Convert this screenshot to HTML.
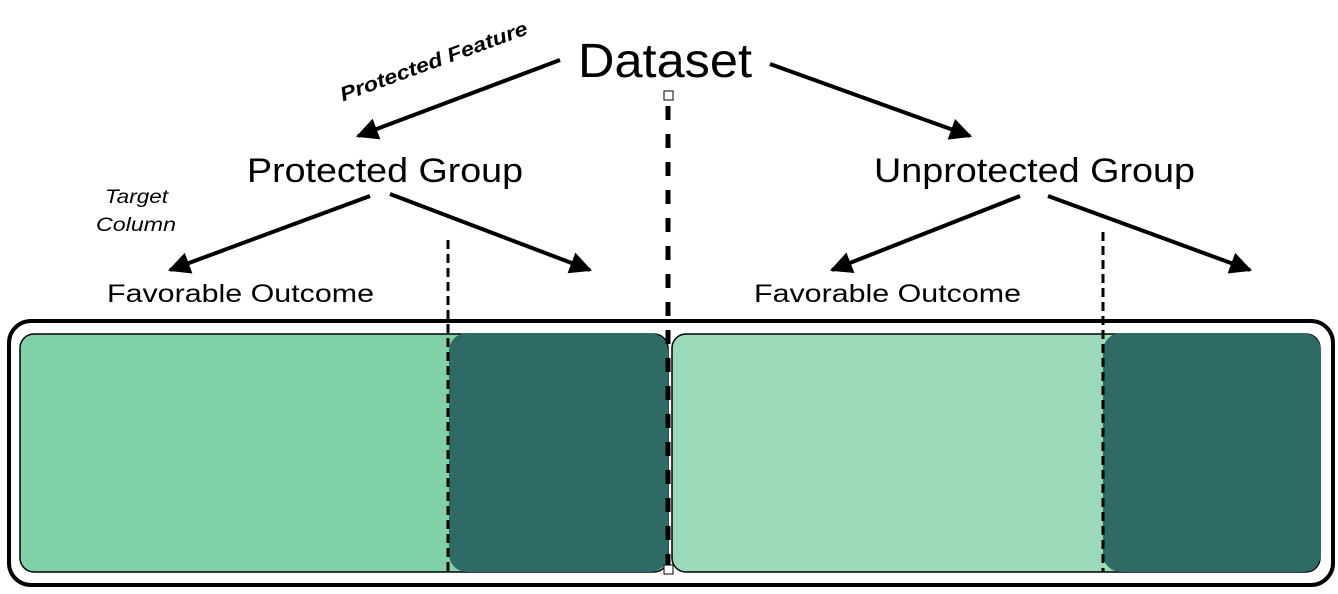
<!DOCTYPE html>
<html><head><style>body{margin:0;background:#fff}svg{display:block}</style></head><body>
<svg width="1338" height="594" viewBox="0 0 1338 594" xmlns="http://www.w3.org/2000/svg" font-family="Liberation Sans, sans-serif">
<defs>
<marker id="b" viewBox="0 0 10 10" refX="9" refY="5" markerWidth="26" markerHeight="22" orient="auto" markerUnits="userSpaceOnUse"><path d="M0,0 L10,5 L0,10 z"/></marker></defs>
<rect x="9" y="321" width="1324" height="264" rx="22" fill="none" stroke="#000" stroke-width="4"/>
<rect x="20" y="334" width="648" height="238" rx="14" fill="#80d0a8" stroke="#000" stroke-width="1.5"/>
<rect x="449" y="333" width="219" height="239" rx="18" fill="#2e6b66"/>
<rect x="672" y="334" width="648" height="238" rx="14" fill="#9adab8" stroke="#000" stroke-width="1.5"/>
<rect x="1103" y="333" width="218" height="239" rx="18" fill="#2e6b66"/>
<line x1="448" y1="240" x2="448" y2="572" stroke="#000" stroke-width="3" stroke-dasharray="9,5"/>
<line x1="1103" y1="232" x2="1103" y2="572" stroke="#000" stroke-width="3" stroke-dasharray="9,5"/>
<line x1="668" y1="106" x2="668" y2="566" stroke="#000" stroke-width="5" stroke-dasharray="14,14"/>
<rect x="664" y="91" width="9" height="9" fill="#fff" stroke="#000" stroke-width="1"/>
<rect x="664" y="565" width="9" height="9" fill="#fff" stroke="#000" stroke-width="1"/>
<g stroke="#000" stroke-width="4" marker-end="url(#b)">
<line x1="560" y1="60" x2="358" y2="136"/>
<line x1="770" y1="64" x2="970" y2="136"/>
<line x1="370" y1="196" x2="170" y2="270"/>
<line x1="390" y1="194" x2="590" y2="270"/>
<line x1="1020" y1="196" x2="832" y2="270"/>
<line x1="1048" y1="196" x2="1250" y2="270"/>
</g>
<text x="578" y="77" font-size="48" textLength="174" lengthAdjust="spacingAndGlyphs">Dataset</text>
<text x="247" y="182" font-size="34" textLength="276" lengthAdjust="spacingAndGlyphs">Protected Group</text>
<text x="874" y="182" font-size="34" textLength="321" lengthAdjust="spacingAndGlyphs">Unprotected Group</text>
<text x="107" y="302" font-size="25" textLength="267" lengthAdjust="spacingAndGlyphs">Favorable Outcome</text>
<text x="754" y="302" font-size="25" textLength="267" lengthAdjust="spacingAndGlyphs">Favorable Outcome</text>
<text x="105" y="203" font-size="19" font-style="italic" textLength="63" lengthAdjust="spacingAndGlyphs">Target</text>
<text x="96" y="231" font-size="19" font-style="italic" textLength="80" lengthAdjust="spacingAndGlyphs">Column</text>
<text x="434" y="68" font-size="20" font-weight="bold" font-style="italic" text-anchor="middle" textLength="198" lengthAdjust="spacingAndGlyphs" transform="rotate(-20 434 62)">Protected Feature</text>
</svg>
</body></html>
